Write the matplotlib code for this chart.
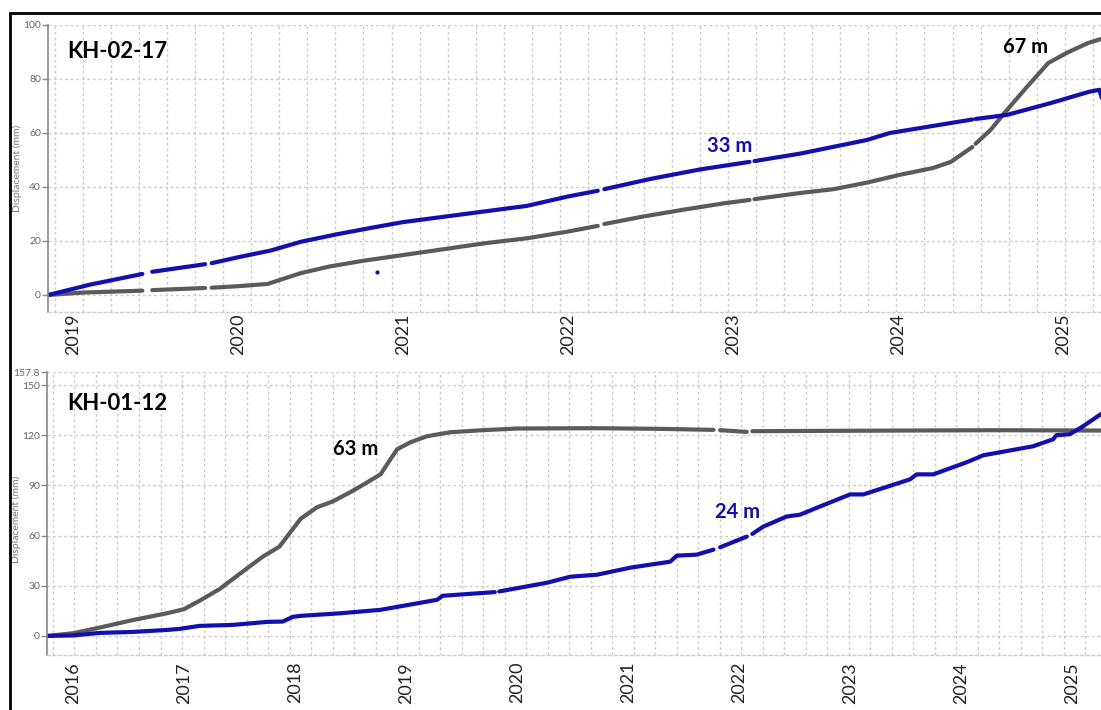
import numpy as np
import matplotlib
matplotlib.use("Agg")
from matplotlib import pyplot as plt
from matplotlib.patches import Rectangle

nan = np.nan

# KH-02-17, displacement in mm against decimal year
top_years_67 = [2018.85, 2019.06, 2019.42, nan, 2019.48, 2019.80, nan, 2019.84, 2020.01, 2020.18,
                2020.38, 2020.55, 2020.75, 2021.0, 2021.25, 2021.5, 2021.75, 2022.0, 2022.18, nan,
                2022.22, 2022.45, 2022.7, 2022.95, 2023.10, nan, 2023.13, 2023.41, 2023.61, 2023.81,
                2024.01, 2024.21, 2024.32, 2024.45, nan, 2024.47, 2024.56, 2024.66, 2024.78, 2024.91,
                2025.02, 2025.15, 2025.23]
top_disp_67 = [0, 0.9, 1.6, nan, 1.8, 2.6, nan, 2.7, 3.3, 4.1,
               8.1, 10.5, 12.6, 14.8, 17.0, 19.2, 21.0, 23.5, 25.6, nan,
               26.3, 29.0, 31.6, 34.0, 35.2, nan, 35.5, 37.8, 39.2, 41.6,
               44.5, 47.0, 49.3, 54.8, nan, 56.0, 61.1, 68.5, 77.0, 85.9,
               89.6, 93.3, 94.8]

top_years_33 = [2018.85, 2019.1, 2019.42, nan, 2019.48, 2019.80, nan, 2019.84, 2020.01, 2020.2,
                2020.38, 2020.6, 2020.8, 2021.0, 2021.25, 2021.5, 2021.75, 2022.0, 2022.18, nan,
                2022.22, 2022.5, 2022.8, 2023.1, nan, 2023.13, 2023.41, 2023.81, 2023.95, 2024.2,
                2024.45, nan, 2024.47, 2024.66, 2024.92, 2025.16, 2025.22, 2025.235]
top_disp_33 = [0, 3.8, 7.8, nan, 8.6, 11.4, nan, 11.8, 14.1, 16.5,
               19.7, 22.5, 24.8, 27.0, 29.0, 31.0, 33.0, 36.5, 38.6, nan,
               39.2, 43.0, 46.5, 49.3, nan, 49.6, 52.4, 57.4, 60.0, 62.5,
               65.0, nan, 65.2, 66.7, 71.0, 75.3, 76.0, 73.0]
top_stray_year = [2020.84]
top_stray_disp = [8.5]

# KH-01-12
bot_years_63 = [2015.77, 2016.0, 2016.24, 2016.54, 2016.85, 2017.0, 2017.14, 2017.32, 2017.5, 2017.71,
                2017.86, 2018.05, 2018.2, 2018.34, 2018.5, 2018.65, 2018.77, 2018.92, 2019.04, 2019.19,
                2019.4, 2019.69, 2020.0, 2020.7, 2021.3, 2021.77, nan, 2021.83, 2022.07, nan,
                2022.12, 2022.73, 2023.5, 2024.3, 2025.26]
bot_disp_63 = [0, 1.6, 5.0, 9.5, 13.6, 16.0, 21.0, 28.0, 37.0, 47.4,
               53.4, 70.0, 77.0, 80.4, 86.0, 91.8, 96.6, 111.6, 115.8, 119.4,
               121.8, 123.0, 124.0, 124.2, 123.8, 123.2, nan, 123.0, 122.0, nan,
               122.4, 122.6, 122.8, 123.0, 122.8]

bot_years_24 = [2015.77, 2016.0, 2016.24, 2016.54, 2016.85, 2016.96, 2017.14, 2017.44, 2017.75, 2017.89,
                2017.98, 2018.05, 2018.4, 2018.77, 2019.28, 2019.33, 2019.8, nan, 2019.84, 2020.27,
                2020.48, 2020.72, 2021.02, 2021.38, 2021.44, 2021.62, 2021.77, nan, 2021.83, 2022.07,
                nan, 2022.12, 2022.22, 2022.43, 2022.55, 2022.73, 2023.0, 2023.12, 2023.54, 2023.6,
                2023.75, 2024.05, 2024.2, 2024.65, 2024.83, 2024.86, 2024.98, 2025.1, 2025.26]
bot_disp_24 = [0, 0.3, 1.8, 2.4, 3.6, 4.2, 6.0, 6.6, 8.4, 8.6,
               11.4, 12.0, 13.5, 15.6, 21.6, 24.0, 26.2, nan, 26.6, 31.8,
               35.4, 36.6, 40.8, 44.4, 48.0, 48.6, 51.6, nan, 53.0, 59.4,
               nan, 61.0, 65.4, 71.4, 72.5, 77.4, 84.6, 84.6, 93.6, 96.6,
               96.6, 103.8, 108.0, 113.4, 117.6, 120.0, 120.6, 125.4, 132.6]

top_ticks = [0, 20, 40, 60, 80, 100]
bot_ticks = [0, 30, 60, 90, 120, 150, 157.8]
bot_tick_labels = ['0', '30', '60', '90', '120', '150', '157.8']

GRAY = '#5a5a5a'
BLUE = '#1010b0'
GRID = '#cccccc'

plt.rcParams['font.family'] = ['Lato', 'DejaVu Sans']

fig = plt.figure(figsize=(11.01, 7.10), dpi=100)
fig.patch.set_facecolor('white')

ax1 = fig.add_axes([48 / 1101, 1 - 312 / 710, 1 - 48 / 1101, 287 / 710])
ax2 = fig.add_axes([47 / 1101, 1 - 655 / 710, 1 - 47 / 1101, 283 / 710])


def style(ax, xlim, ylim, years, yticks, ylabels, grid_start, grid_step, label_pad):
    ax.set_xlim(*xlim)
    ax.set_ylim(*ylim)
    ax.set_yticks(yticks)
    ax.set_yticklabels(ylabels)
    ax.set_xticks(years)
    ax.set_xticklabels([str(y) for y in years], rotation=90, fontsize=13, color='#222222')
    ax.tick_params(axis='x', length=0, pad=label_pad)
    ax.tick_params(axis='y', length=4, width=1, color='#888888', labelsize=7.5,
                   labelcolor='#666666', pad=1)
    for s in ['top', 'right']:
        ax.spines[s].set_visible(False)
    ax.spines['left'].set_color('#888888')
    ax.spines['left'].set_linewidth(1.2)
    ax.spines['bottom'].set_color(GRID)
    ax.spines['bottom'].set_linestyle((0, (2, 2)))
    ax.spines['bottom'].set_linewidth(1)
    # vertical grid runs on its own spacing, not on the year ticks
    for gx in np.arange(grid_start, xlim[1], grid_step):
        ax.axvline(gx, color=GRID, lw=1, ls=(0, (2, 2)), zorder=0)
    for gy in yticks:
        ax.axhline(gy, color=GRID, lw=1, ls=(0, (2, 2)), zorder=0)
    ax.set_ylabel('Displacement (mm)', fontsize=7.5, color='#777777')


style(ax1, (2018.848, 2025.23), (-6.3, 100), list(range(2019, 2026)),
      top_ticks, [str(t) for t in top_ticks], 2018.89, 0.170, 1)
style(ax2, (2015.766, 2025.261), (-11.4, 157.8), list(range(2016, 2026)),
      bot_ticks, bot_tick_labels, 2015.82, 0.1937, 5)
ax1.yaxis.set_label_coords(-0.025, 0.5)
ax2.yaxis.set_label_coords(-0.025, 0.48)

ax1.plot(top_years_67, top_disp_67, color=GRAY, lw=3, solid_capstyle='round')
ax1.plot(top_years_33, top_disp_33, color=BLUE, lw=3, solid_capstyle='round')
ax1.plot(top_stray_year, top_stray_disp, 'o', color=BLUE, ms=2)
ax2.plot(bot_years_63, bot_disp_63, color=GRAY, lw=3, solid_capstyle='round')
ax2.plot(bot_years_24, bot_disp_24, color=BLUE, lw=3, solid_capstyle='round')

ax1.text(0.018, 0.906, 'KH-02-17', transform=ax1.transAxes, fontsize=16,
         fontweight='bold', va='center', ha='left')
ax2.text(0.019, 0.89, 'KH-01-12', transform=ax2.transAxes, fontsize=16,
         fontweight='bold', va='center', ha='left')

ax1.text(2024.77, 91.9, '67 m', fontsize=14.5, fontweight='bold', ha='center', va='center')
ax1.text(2022.98, 55.2, '33 m', fontsize=14.5, fontweight='bold', ha='center', va='center',
         color=BLUE)
ax2.text(2018.55, 112, '63 m', fontsize=14.5, fontweight='bold', ha='center', va='center')
ax2.text(2021.99, 73.8, '24 m', fontsize=14.5, fontweight='bold', ha='center', va='center',
         color=BLUE)

# black frame round the whole picture
fig.patches.append(Rectangle((9.5 / 1101, -0.2), 1.5, 1.2 - 13 / 710, transform=fig.transFigure,
                             fill=False, ec='black', lw=2, zorder=10))

fig.savefig('out.png', dpi=100)
